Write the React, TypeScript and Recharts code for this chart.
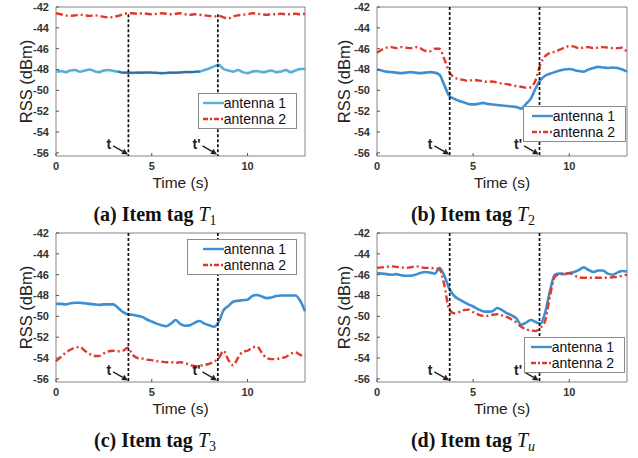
import React from 'react';
import {
  LineChart,
  Line,
  XAxis,
  YAxis,
  Legend,
  ReferenceLine,
  ReferenceArea,
} from 'recharts';

// time axis (s), one sample every 0.25 s
const times = [
  0, 0.25, 0.5, 0.75, 1, 1.25, 1.5, 1.75, 2, 2.25, 2.5, 2.75,
  3, 3.25, 3.5, 3.75, 4, 4.25, 4.5, 4.75, 5, 5.25, 5.5, 5.75,
  6, 6.25, 6.5, 6.75, 7, 7.25, 7.5, 7.75, 8, 8.25, 8.5, 8.75,
  9, 9.25, 9.5, 9.75, 10, 10.25, 10.5, 10.75, 11, 11.25, 11.5, 11.75,
  12, 12.25, 12.5, 12.75, 13,
];

// (a) item tag T1
const tagA1 = [
  -48.2, -48.15, -48.25, -48.1, -48.05, -48.2, -48.1, -48.0,
  -48.15, -48.25, -48.1, -48.05, -48.15, -48.2, -48.3, -48.3,
  -48.32, -48.3, -48.3, -48.28, -48.3, -48.32, -48.35, -48.33,
  -48.3, -48.3, -48.28, -48.25, -48.25, -48.22, -48.2, -48.05,
  -47.9, -47.7, -47.55, -47.95, -48.1, -48.2, -48.05, -48.25,
  -48.35, -48.2, -48.15, -48.25, -48.2, -48.1, -48.25, -48.2,
  -48.05, -48.25, -48.1, -47.95, -47.95,
];
const tagA2 = [
  -42.6, -42.7, -42.8, -42.85, -42.8, -42.75, -42.8, -42.85,
  -42.8, -42.85, -42.95, -43.0, -42.95, -42.85, -42.7, -42.6,
  -42.6, -42.65, -42.6, -42.65, -42.7, -42.65, -42.6, -42.65,
  -42.7, -42.65, -42.6, -42.7, -42.75, -42.7, -42.75, -42.8,
  -42.85, -42.9, -42.85, -43.0, -43.1, -42.9, -42.8, -42.75,
  -42.7, -42.6, -42.65, -42.7, -42.75, -42.7, -42.7, -42.65,
  -42.7, -42.7, -42.65, -42.7, -42.65,
];

// (b) item tag T2
const tagB1 = [
  -48.0, -48.1, -48.2, -48.25, -48.3, -48.35, -48.3, -48.25,
  -48.3, -48.35, -48.3, -48.25, -48.3, -48.5, -49.5, -50.5,
  -50.8, -51.0, -51.15, -51.3, -51.35, -51.3, -51.2, -51.3,
  -51.35, -51.4, -51.45, -51.5, -51.55, -51.6, -51.75, -51.3,
  -50.8, -49.8, -49.0, -48.6, -48.4, -48.25, -48.1, -48.0,
  -47.95, -48.05, -48.15, -48.2, -48.0, -47.85, -47.75, -47.8,
  -47.85, -47.8, -47.85, -48.0, -48.2,
];
const tagB2 = [
  -46.4, -46.1, -45.9, -45.85, -45.95, -45.85, -45.9, -45.95,
  -45.85, -45.95, -46.2, -46.25, -46.0, -46.0, -47.0, -48.2,
  -48.75, -48.9, -49.0, -49.1, -49.0, -49.05, -49.1, -49.2,
  -49.15, -49.25, -49.35, -49.4, -49.5, -49.6, -49.65, -49.75,
  -49.7, -49.0, -47.5, -46.7, -46.4, -46.3, -46.1, -45.9,
  -45.75, -45.8, -45.95, -45.9, -45.85, -45.95, -45.9, -45.85,
  -45.9, -45.95, -45.95, -45.9, -46.35,
];

// (c) item tag T3
const tagC1 = [
  -48.8, -48.8, -48.85, -48.75, -48.7, -48.7, -48.75, -48.8,
  -48.85, -48.9, -48.85, -48.85, -48.85, -49.2, -49.6, -49.8,
  -49.85, -49.95, -50.05, -50.3, -50.5, -50.7, -50.85, -50.95,
  -50.7, -50.35, -50.75, -50.9, -50.85, -50.6, -50.45, -50.7,
  -50.85, -51.0, -50.5, -49.4, -49.0, -48.6, -48.5, -48.45,
  -48.4, -48.05, -47.95, -48.1, -48.25, -48.2, -48.05, -48.0,
  -48.0, -48.0, -48.0, -48.5, -49.5,
];
const tagC2 = [
  -54.3, -53.9, -53.5, -53.2, -53.0, -52.95, -53.3, -53.6,
  -53.8, -53.8, -53.55, -53.35, -53.3, -53.35, -53.3, -53.0,
  -53.7, -54.0, -54.05, -54.15, -54.2, -54.3, -54.35, -54.4,
  -54.4, -54.45, -54.4, -54.5, -54.65, -54.8, -54.75, -54.65,
  -54.55, -54.35, -54.0, -53.3, -54.2, -54.7, -54.0, -53.4,
  -53.3, -53.0, -52.9, -53.5, -54.0, -54.1, -54.1, -54.0,
  -53.9, -53.6, -53.45, -53.7, -53.9,
];

// (d) item tag Tu
const tagD1 = [
  -45.85, -45.9, -45.95, -46.0, -45.95, -46.05, -46.1, -46.1,
  -46.0, -45.85, -45.75, -45.8, -45.9, -45.35, -46.1, -47.3,
  -48.0, -48.35, -48.6, -48.85, -49.05, -49.3, -49.5, -49.55,
  -49.5, -49.2, -49.4, -49.7, -49.9, -50.2, -50.8, -50.6,
  -50.35, -50.55, -50.7, -49.6, -47.5, -46.0, -45.9, -45.95,
  -45.85, -45.75, -45.55, -45.3, -45.55, -45.75, -45.6, -45.6,
  -45.9, -46.0, -45.8, -45.65, -45.7,
];
const tagD2 = [
  -45.35, -45.3, -45.25, -45.2, -45.25, -45.3, -45.35, -45.3,
  -45.2, -45.25, -45.35, -45.35, -45.4, -45.5, -47.0, -49.3,
  -49.7, -49.6, -49.4, -49.35, -49.6, -49.8, -49.95, -49.95,
  -49.85, -49.8, -49.9, -50.05, -50.3, -50.6, -51.0, -51.25,
  -51.35, -51.4, -51.1, -50.4, -48.0, -46.2, -45.95, -45.9,
  -45.85, -46.05, -46.25, -46.3, -46.3, -46.3, -46.3, -46.3,
  -46.3, -46.25, -46.2, -46.1, -46.0,
];

const yTicks = [-56, -54, -52, -50, -48, -46, -44, -42];
const xTicks = [0, 5, 10];
const seriesNames = ['antenna 1', 'antenna 2'];
const tStart = 3.78;
const tEnd = 8.45;

const BLUE = '#3d8fd1';
const RED = '#e0392b';
const SANS = '"Liberation Sans", Arial, Helvetica, sans-serif';

const Y_MIN = -56.3;
const Y_MAX = -42;

function arrowShape(label: string) {
  return (p: any) => {
    const { x1, y1, x2, y2 } = p;
    const ang = Math.atan2(y2 - y1, x2 - x1);
    const L = 6;
    const W = 3;
    const bx = x2 - L * Math.cos(ang);
    const by = y2 - L * Math.sin(ang);
    const px = -Math.sin(ang) * W;
    const py = Math.cos(ang) * W;
    return (
      <g>
        <line x1={x1} y1={y1} x2={bx} y2={by} stroke="#222" strokeWidth={1.4} />
        <polygon
          points={`${x2},${y2} ${bx + px},${by + py} ${bx - px},${by - py}`}
          fill="#222"
        />
        <text
          x={x1 - 2}
          y={y1 + 3}
          textAnchor="end"
          fontSize={14}
          fontWeight="bold"
          fontFamily={SANS}
          fill="#222"
        >
          {label}
        </text>
      </g>
    );
  };
}

interface PanelProps {
  s1: number[];
  s2: number[];
  left: number;
  top: number;
  width: number;
  yWidth: number;
  rightMargin: number;
  legendBox: { left: number; top: number; width: number };
  letter: string;
  sub: string;
  blue?: string;
  lineTop?: number;
  darkFrom?: number;
  darkTo?: number;
}

function LegendBox({ width, blue }: { width: number; blue: string }) {
  return (
    <div
      style={{
        width,
        boxSizing: 'border-box',
        border: '1px solid #8a8a8a',
        background: '#fff',
        padding: '1px 10px 1px 0',
        fontFamily: SANS,
        fontSize: 14,
        lineHeight: '16px',
        color: '#111',
        whiteSpace: 'nowrap',
      }}
    >
      {seriesNames.map((name, i) => (
        <div key={name} style={{ display: 'flex', justifyContent: 'flex-end', alignItems: 'center' }}>
          <svg width={21} height={10}>
            <line
              x1={0}
              y1={5}
              x2={21}
              y2={5}
              stroke={i === 0 ? blue : RED}
              strokeWidth={2.4}
              strokeDasharray={i === 0 ? undefined : '5 2 2 2'}
            />
          </svg>
          <span>{name}</span>
        </div>
      ))}
    </div>
  );
}

function Panel(props: PanelProps) {
  const { s1, s2, left, top, width, yWidth, rightMargin, legendBox, letter, sub } = props;
  const blue = props.blue || BLUE;
  const rows = times.map((t, i) => ({
    t,
    a1: s1[i],
    a2: s2[i],
    dark:
      props.darkFrom !== undefined && t >= props.darkFrom && t <= (props.darkTo as number)
        ? s1[i]
        : null,
  }));
  const lineTop = props.lineTop ?? Y_MAX;
  const tick = { fontSize: 11, fill: '#333', fontFamily: SANS, fontWeight: 'bold' };

  return (
    <div style={{ position: 'absolute', left, top, width, height: 230 }}>
      <LineChart
        width={width}
        height={195}
        data={rows}
        margin={{ top: 7, right: rightMargin, bottom: 0, left: 0 }}
      >
        <XAxis
          dataKey="t"
          type="number"
          domain={[0, 13]}
          ticks={xTicks}
          height={39}
          tick={tick}
          tickSize={-3}
          tickMargin={9}
          axisLine={false}
          stroke="#555"
          label={{
            value: 'Time (s)',
            position: 'insideBottom',
            offset: 7,
            style: { fontSize: 15.5, fill: '#222', fontFamily: SANS },
          }}
        />
        <YAxis
          type="number"
          domain={[Y_MIN, Y_MAX]}
          ticks={yTicks}
          allowDataOverflow
          width={yWidth}
          tick={tick}
          tickSize={-3}
          tickMargin={10}
          axisLine={false}
          stroke="#555"
          label={{
            value: 'RSS (dBm)',
            angle: -90,
            position: 'insideLeft',
            offset: 26,
            style: { fontSize: 16.5, fill: '#222', fontFamily: SANS, textAnchor: 'middle' },
          }}
        />
        <ReferenceArea
          x1={0}
          x2={13}
          y1={Y_MIN}
          y2={Y_MAX}
          fill="none"
          fillOpacity={0}
          stroke="#666"
          strokeWidth={0.8}
          ifOverflow="visible"
        />
        <Line
          type="monotone"
          dataKey="a1"
          stroke={blue}
          strokeWidth={2.6}
          dot={false}
          isAnimationActive={false}
        />
        {props.darkFrom !== undefined && (
          <Line
            type="monotone"
            dataKey="dark"
            stroke="#2f6ea8"
            strokeWidth={2}
            dot={false}
            legendType="none"
            isAnimationActive={false}
          />
        )}
        <Line
          type="monotone"
          dataKey="a2"
          stroke={RED}
          strokeWidth={2.4}
          strokeDasharray="7 3 2 3"
          dot={false}
          isAnimationActive={false}
        />
        <ReferenceLine
          segment={[{ x: tStart, y: lineTop }, { x: tStart, y: Y_MIN }]}
          stroke="#111"
          strokeWidth={1.7}
          strokeDasharray="3 2"
        />
        <ReferenceLine
          segment={[{ x: tEnd, y: lineTop }, { x: tEnd, y: Y_MIN }]}
          stroke="#111"
          strokeWidth={1.7}
          strokeDasharray="3 2"
        />
        <ReferenceLine
          segment={[{ x: 2.98, y: -55.33 }, { x: tStart - 0.02, y: -56.15 }]}
          shape={arrowShape('t')}
        />
        <ReferenceLine
          segment={[{ x: 7.65, y: -55.33 }, { x: tEnd - 0.04, y: -56.15 }]}
          shape={arrowShape("t'")}
        />
        <Legend
          layout="horizontal"
          verticalAlign="middle"
          align="center"
          wrapperStyle={{ left: legendBox.left, top: legendBox.top, width: legendBox.width }}
          content={() => <LegendBox width={legendBox.width} blue={blue} />}
        />
      </LineChart>
      <div
        style={{
          position: 'absolute',
          left: 0,
          top: 204,
          width: 310,
          textAlign: 'center',
          fontFamily: '"Liberation Serif", "Times New Roman", serif',
          fontSize: 20,
          lineHeight: '20px',
          color: '#111',
        }}
      >
        <b>({letter}) Item tag </b>
        <i>T</i>
        <sub style={{ fontSize: 14, verticalAlign: '-4px', fontStyle: sub === 'u' ? 'italic' : 'normal' }}>
          {sub}
        </sub>
      </div>
    </div>
  );
}

export default function App() {
  return (
    <div
      style={{
        position: 'absolute',
        left: 0,
        top: 0,
        width: 638,
        height: 458,
        background: '#fff',
        overflow: 'hidden',
      }}
    >
      <Panel
        s1={tagA1}
        s2={tagA2}
        left={0}
        top={0}
        width={319}
        yWidth={56}
        rightMargin={14}
        legendBox={{ left: 198, top: 93, width: 99 }}
        letter="a"
        sub="1"
        blue="#5aaed6"
        lineTop={-42.7}
        darkFrom={3.25}
        darkTo={7.5}
      />
      <Panel
        s1={tagB1}
        s2={tagB2}
        left={318}
        top={0}
        width={320}
        yWidth={59}
        rightMargin={11}
        legendBox={{ left: 205, top: 106, width: 103 }}
        letter="b"
        sub="2"
      />
      <Panel
        s1={tagC1}
        s2={tagC2}
        left={0}
        top={226}
        width={319}
        yWidth={56}
        rightMargin={14}
        legendBox={{ left: 187, top: 13, width: 110 }}
        letter="c"
        sub="3"
      />
      <Panel
        s1={tagD1}
        s2={tagD2}
        left={318}
        top={226}
        width={320}
        yWidth={59}
        rightMargin={11}
        legendBox={{ left: 206, top: 111, width: 101 }}
        letter="d"
        sub="u"
      />
    </div>
  );
}
